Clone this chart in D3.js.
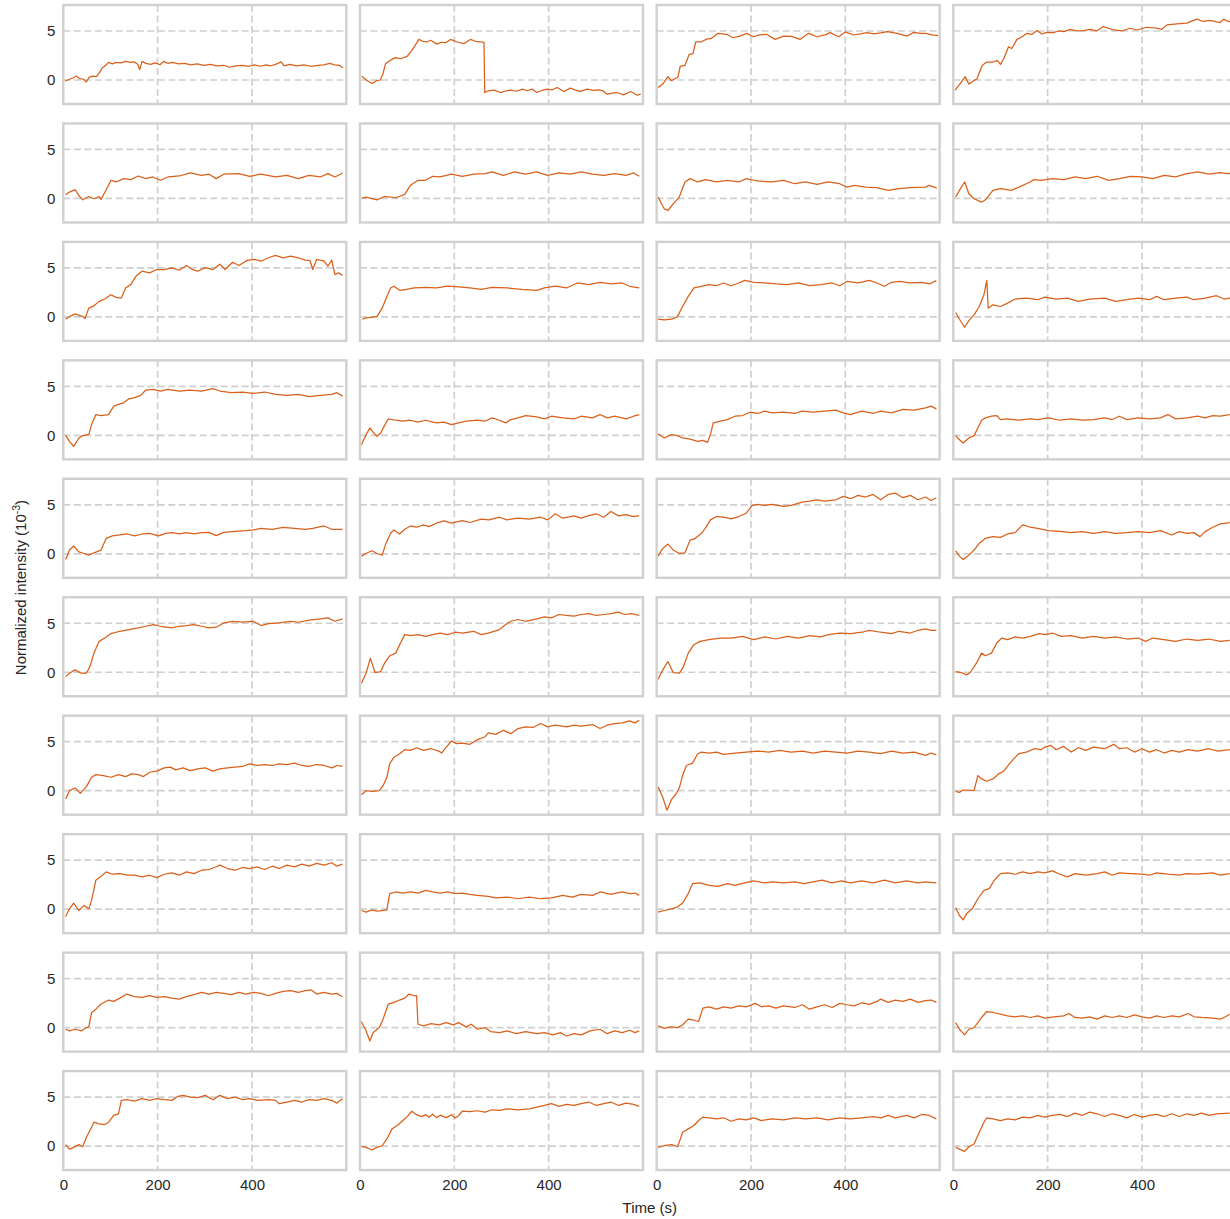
<!DOCTYPE html>
<html>
<head>
<meta charset="utf-8">
<script src="https://cdn.jsdelivr.net/npm/d3@7"></script>
<style>
  body { margin: 0; background: #fff; }
  text { font-family: "Liberation Sans", Arial, Helvetica, sans-serif; fill: #262626; }
</style>
</head>
<body>
<svg id="fig" width="1230" height="1219"></svg>
<script>
// Normalized intensity traces (units of 1e-3) as [time (s), value] pairs, one per cell.
// Row 1
const c11 = [[4,-0.1],[12,0.05],[20,0.2],[28,0.4],[34,0.15],[42,0.1],[49,-0.2],[55,0.3],[63,0.4],[70,0.35],[76,0.7],[82,1.2],[90,1.5],[96,1.8],[104,1.65],[112,1.8],[122,1.75],[132,1.9],[142,1.8],[150,1.85],[158,1.6],[162,1.05],[167,1.9],[175,1.7],[185,1.6],[195,1.75],[205,1.55],[213,1.9],[222,1.7],[232,1.8],[245,1.65],[258,1.7],[270,1.55],[284,1.65],[298,1.5],[312,1.6],[325,1.45],[340,1.5],[352,1.3],[365,1.45],[380,1.5],[393,1.4],[405,1.55],[418,1.4],[430,1.55],[440,1.45],[450,1.6],[462,1.85],[468,1.45],[480,1.6],[495,1.45],[510,1.55],[525,1.4],[540,1.5],[552,1.55],[565,1.7],[575,1.55],[585,1.5],[593,1.25]];
const c12 = [[4,0.38],[12,0.05],[20,-0.2],[26,-0.35],[34,-0.1],[43,0],[48,0.5],[54,1.65],[64,2.0],[75,2.28],[86,2.17],[100,2.41],[110,3.03],[118,3.6],[125,4.14],[133,3.95],[142,3.9],[150,4.05],[163,3.66],[172,3.85],[182,3.8],[192,4.14],[205,3.9],[220,3.7],[234,4.14],[245,3.95],[255,3.9],[263,3.83],[264.5,-1.28],[272,-1.1],[284,-1.04],[298,-1.28],[310,-1.1],[319,-1.04],[332,-1.15],[344,-0.93],[355,-1.1],[365,-0.93],[375,-1.28],[386,-1.05],[397,-0.93],[408,-1.0],[418,-0.76],[432,-1.17],[446,-0.83],[456,-1.0],[467,-1.17],[482,-0.93],[495,-1.05],[506,-1.0],[515,-1.1],[524,-1.45],[535,-1.35],[545,-1.28],[559,-1.52],[574,-1.17],[588,-1.55],[595,-1.45]];
const c13 = [[3,-0.76],[13,-0.42],[24,0.34],[31,-0.07],[38,0.1],[45,0.28],[50,1.38],[60,1.48],[69,2.62],[77,2.69],[83,3.9],[95,3.9],[106,4.17],[116,4.24],[130,4.76],[148,4.66],[162,4.31],[176,4.48],[191,4.76],[205,4.41],[218,4.6],[233,4.66],[251,4.14],[269,4.48],[286,4.45],[304,4.14],[322,4.76],[340,4.41],[357,4.6],[368,4.83],[386,4.41],[400,4.9],[418,4.59],[432,4.7],[446,4.83],[460,4.7],[475,4.8],[489,4.93],[510,4.76],[531,4.48],[545,4.86],[560,4.75],[570,4.76],[584,4.6],[597,4.52]];
const c14 = [[4,-1.04],[15,-0.35],[25,0.34],[33,-0.42],[43,-0.07],[50,0.1],[61,1.48],[71,1.83],[85,1.83],[93,2.0],[100,1.59],[107,2.17],[117,3.38],[124,3.21],[135,4.14],[146,4.41],[156,4.76],[167,4.66],[177,5.04],[188,4.69],[198,4.86],[212,4.83],[223,5.0],[235,4.93],[248,5.17],[262,5.0],[276,5.03],[290,5.17],[304,5.0],[318,5.45],[340,5.1],[357,5.0],[375,5.28],[389,5.1],[410,5.38],[431,5.28],[442,5.17],[453,5.62],[474,5.72],[495,5.8],[516,6.21],[530,5.97],[544,6.07],[566,5.86],[573,6.21],[583,5.97],[595,6.0]];
// Row 2
const c21 = [[5,0.38],[13,0.65],[25,0.9],[33,0.3],[41,-0.14],[54,0.2],[65,-0.03],[76,0.2],[80,-0.1],[91,0.89],[101,1.85],[112,1.68],[128,2.02],[143,1.92],[159,2.29],[175,2.02],[190,2.19],[206,1.85],[222,2.19],[246,2.29],[269,2.6],[293,2.36],[309,2.47],[324,2.02],[340,2.47],[372,2.53],[395,2.26],[419,2.47],[450,2.19],[474,2.36],[498,2.02],[521,2.36],[545,2.19],[561,2.53],[576,2.19],[592,2.6]];
const c22 = [[5,0.03],[13,0.14],[36,-0.14],[52,0.2],[76,0.07],[95,0.41],[107,1.34],[123,1.85],[139,1.85],[154,2.26],[170,2.19],[194,2.47],[217,2.26],[241,2.47],[265,2.53],[280,2.7],[304,2.36],[328,2.7],[351,2.47],[375,2.7],[398,2.36],[422,2.6],[446,2.47],[469,2.7],[493,2.47],[517,2.36],[540,2.53],[564,2.36],[580,2.6],[592,2.26]];
const c23 = [[3,0.14],[16,-1.06],[24,-1.23],[35,-0.55],[48,0.14],[60,1.68],[71,2.02],[87,1.68],[103,1.92],[127,1.68],[150,1.85],[174,1.68],[190,2.02],[213,1.78],[245,1.68],[269,1.85],[293,1.5],[316,1.68],[340,1.44],[364,1.68],[388,1.5],[404,1.16],[419,1.34],[443,1.16],[467,1.1],[491,0.82],[514,1.0],[538,1.1],[570,1.16],[578,1.34],[594,1.06]];
const c24 = [[5,0.14],[13,0.82],[24,1.68],[33,0.48],[44,-0.03],[60,-0.38],[68,-0.14],[84,0.82],[100,0.99],[123,0.82],[139,1.16],[163,1.68],[171,1.92],[186,1.85],[210,2.02],[234,1.92],[258,2.19],[281,2.02],[305,2.26],[329,1.85],[352,2.02],[376,2.26],[400,2.19],[423,2.02],[447,2.36],[471,2.19],[495,2.53],[518,2.7],[542,2.47],[566,2.64],[581,2.53],[595,2.6]];
// Row 3
const c31 = [[5,-0.24],[13,0.03],[25,0.31],[41,0.03],[46,-0.17],[54,0.89],[65,1.13],[76,1.58],[88,1.82],[101,2.26],[112,1.99],[123,1.92],[132,2.95],[143,3.29],[154,4.14],[167,4.66],[183,4.49],[198,4.83],[214,4.83],[230,5.0],[246,4.76],[261,5.24],[274,4.83],[285,4.66],[301,5.03],[317,4.83],[332,5.38],[343,4.83],[359,5.58],[372,5.24],[391,5.79],[406,5.86],[419,5.68],[435,6.03],[450,6.27],[466,6.03],[482,6.2],[498,6.03],[513,5.79],[523,5.75],[529,4.83],[537,5.86],[553,5.68],[561,5.17],[569,5.79],[576,4.32],[584,4.49],[592,4.21]];
const c32 = [[5,-0.24],[13,-0.1],[36,0.03],[47,0.89],[57,2.09],[65,2.95],[72,3.13],[84,2.71],[99,2.81],[115,2.95],[139,3.0],[162,2.95],[186,3.13],[209,3.05],[233,2.95],[257,2.81],[280,3.0],[312,2.95],[343,2.81],[375,2.71],[391,2.95],[414,3.13],[438,2.95],[461,3.46],[485,3.29],[509,3.53],[532,3.36],[556,3.46],[572,3.12],[592,2.95]];
const c33 = [[3,-0.24],[16,-0.31],[32,-0.24],[44,0.03],[55,1.06],[67,2.09],[79,2.95],[95,3.12],[111,3.29],[127,3.18],[142,3.46],[158,3.18],[174,3.46],[187,3.73],[206,3.53],[229,3.46],[253,3.36],[277,3.29],[301,3.46],[324,3.18],[348,3.29],[372,3.46],[388,3.18],[404,3.63],[427,3.46],[451,3.73],[467,3.46],[483,3.12],[498,3.53],[514,3.63],[538,3.46],[562,3.53],[578,3.36],[593,3.7]];
const c34 = [[5,0.45],[13,-0.24],[24,-1.06],[33,-0.38],[44,0.2],[55,1.06],[65,2.26],[71,3.73],[74,0.89],[84,1.23],[100,1.06],[115,1.4],[131,1.82],[155,1.92],[179,1.75],[194,2.02],[218,1.82],[242,1.92],[265,1.58],[289,1.82],[321,1.92],[344,1.58],[368,1.75],[392,1.92],[416,1.75],[431,2.09],[447,1.75],[471,1.92],[495,2.02],[510,1.75],[534,1.92],[558,2.16],[574,1.82],[586,1.92],[595,1.9]];
// Row 4
const c41 = [[5,0],[13,-0.62],[22,-1.13],[33,-0.27],[41,-0.03],[54,0.07],[60,1.1],[69,2.12],[80,2.02],[96,2.12],[107,2.98],[117,3.15],[128,3.32],[139,3.73],[151,3.84],[164,4.08],[175,4.62],[191,4.69],[206,4.52],[222,4.69],[246,4.52],[269,4.62],[293,4.52],[317,4.76],[332,4.52],[356,4.35],[380,4.42],[403,4.28],[427,4.42],[450,4.18],[474,4.08],[498,4.18],[521,3.94],[545,4.08],[569,4.18],[580,4.35],[592,4.0]];
const c42 = [[3,-0.96],[13,0.07],[21,0.75],[28,0.31],[36,-0.1],[44,0.24],[52,0.99],[60,1.68],[76,1.54],[91,1.44],[107,1.54],[123,1.34],[139,1.54],[162,1.27],[178,1.34],[194,1.1],[209,1.27],[225,1.44],[249,1.54],[265,1.44],[280,1.78],[296,1.54],[309,1.27],[320,1.61],[335,1.78],[351,2.02],[375,1.88],[391,1.68],[406,1.95],[430,1.78],[454,1.68],[469,1.95],[493,1.78],[509,2.12],[524,1.78],[540,1.95],[564,1.68],[580,1.95],[592,2.12]];
const c43 = [[3,0.17],[16,-0.27],[32,0.07],[44,-0.03],[55,-0.27],[71,-0.38],[87,-0.62],[98,-0.51],[108,-0.72],[114,0.07],[120,1.27],[135,1.44],[150,1.61],[166,1.95],[182,2.02],[198,2.36],[214,2.23],[229,2.47],[245,2.29],[269,2.36],[293,2.23],[308,2.47],[332,2.36],[356,2.47],[380,2.57],[396,2.29],[411,2.12],[435,2.47],[459,2.23],[475,2.47],[498,2.29],[522,2.64],[546,2.57],[570,2.81],[582,2.98],[593,2.7]];
const c44 = [[5,-0.03],[13,-0.45],[21,-0.79],[33,-0.27],[44,-0.03],[52,0.75],[60,1.54],[68,1.78],[81,1.95],[92,2.02],[100,1.61],[115,1.68],[139,1.54],[163,1.68],[179,1.61],[202,1.78],[226,1.54],[250,1.68],[273,1.54],[297,1.61],[321,1.78],[337,1.61],[352,1.95],[368,1.61],[392,1.78],[416,1.68],[439,1.78],[455,2.12],[471,1.68],[495,1.78],[518,1.95],[534,1.78],[550,2.02],[566,1.95],[586,2.12]];
// Row 5
const c51 = [[5,-0.58],[13,0.38],[22,0.79],[33,0.2],[44,0.03],[54,-0.14],[65,0.1],[80,0.38],[91,1.58],[104,1.82],[120,1.92],[135,2.02],[151,1.82],[167,2.02],[183,2.09],[202,1.82],[217,2.09],[230,2.16],[246,2.02],[261,2.16],[277,2.02],[293,2.16],[309,2.19],[324,1.85],[340,2.19],[364,2.29],[387,2.36],[403,2.43],[419,2.6],[443,2.5],[466,2.7],[490,2.6],[513,2.5],[529,2.6],[553,2.84],[569,2.5],[592,2.5]];
const c52 = [[3,-0.24],[13,0.03],[25,0.31],[36,0.03],[47,-0.14],[55,1.06],[65,2.09],[72,2.43],[84,2.02],[95,2.5],[107,2.84],[120,2.71],[135,2.95],[146,2.77],[162,3.12],[178,3.36],[194,3.12],[217,3.39],[233,3.19],[257,3.53],[273,3.46],[296,3.73],[312,3.46],[335,3.63],[359,3.53],[383,3.73],[398,3.46],[414,4.08],[430,3.63],[454,3.87],[469,3.63],[485,3.9],[501,4.08],[517,3.73],[532,4.32],[548,3.87],[564,4.0],[580,3.8],[592,3.9]];
const c53 = [[3,-0.24],[13,0.55],[24,0.99],[35,0.38],[48,0.03],[60,0.1],[71,1.4],[82,1.58],[95,2.09],[103,2.6],[114,3.46],[127,3.8],[142,3.73],[158,3.56],[174,3.8],[190,4.14],[203,4.93],[214,5.03],[229,4.93],[245,5.03],[269,4.83],[285,4.93],[309,5.27],[324,5.37],[340,5.51],[356,5.37],[380,5.51],[396,5.86],[411,5.62],[427,5.96],[443,5.79],[459,6.06],[475,5.51],[491,6.06],[506,6.2],[522,5.72],[538,5.96],[554,5.51],[570,5.79],[582,5.44],[593,5.72]];
const c54 = [[5,0.31],[13,-0.24],[21,-0.58],[33,-0.14],[44,0.38],[55,1.06],[68,1.58],[84,1.75],[100,1.68],[115,2.02],[131,2.16],[147,2.95],[163,2.71],[179,2.6],[202,2.36],[226,2.29],[250,2.16],[273,2.26],[297,2.09],[321,2.26],[344,2.09],[368,2.16],[392,2.26],[416,2.16],[439,2.36],[463,1.92],[479,2.26],[495,2.09],[510,2.16],[523,1.75],[534,2.26],[550,2.71],[566,3.05],[586,3.18]];
// Row 6
const c61 = [[5,-0.45],[13,-0.1],[25,0.24],[38,-0.1],[49,-0.1],[57,0.65],[65,1.95],[76,3.15],[88,3.49],[101,3.94],[120,4.18],[139,4.35],[159,4.52],[175,4.69],[191,4.86],[206,4.69],[230,4.52],[246,4.69],[261,4.76],[277,4.86],[293,4.69],[309,4.52],[324,4.59],[340,5.03],[359,5.2],[380,5.1],[403,5.2],[419,4.76],[435,4.96],[458,5.03],[482,5.2],[498,5.1],[521,5.31],[545,5.45],[561,5.55],[576,5.2],[592,5.45]];
const c62 = [[3,-1.13],[13,-0.1],[22,1.44],[32,-0.03],[44,0.07],[52,0.92],[63,1.68],[76,1.95],[84,2.81],[95,3.84],[107,3.73],[123,3.84],[139,3.66],[154,3.84],[170,4.0],[186,3.84],[202,4.08],[217,4.0],[241,4.18],[257,3.84],[272,4.0],[296,4.35],[309,4.86],[320,5.2],[335,5.38],[351,5.2],[375,5.45],[391,5.65],[406,5.55],[422,5.89],[438,5.79],[454,5.72],[469,5.89],[485,5.99],[501,5.79],[517,5.89],[532,5.99],[548,6.13],[561,5.89],[576,5.99],[592,5.79]];
const c63 = [[3,-0.72],[13,0.24],[24,1.1],[35,-0.03],[48,-0.1],[57,0.58],[67,1.95],[79,2.81],[92,3.15],[111,3.32],[135,3.49],[158,3.49],[182,3.66],[206,3.32],[229,3.6],[253,3.39],[277,3.66],[301,3.49],[324,3.73],[348,3.6],[364,3.84],[388,4.0],[411,3.94],[435,4.08],[451,4.28],[475,4.08],[498,3.94],[514,4.18],[538,4.0],[554,4.28],[570,4.42],[582,4.28],[593,4.28]];
const c64 = [[5,0.07],[17,-0.03],[28,-0.27],[36,-0.03],[49,0.92],[60,1.95],[68,1.68],[81,1.95],[92,2.98],[103,3.49],[115,3.32],[131,3.6],[147,3.49],[163,3.66],[182,3.94],[194,3.84],[210,4.0],[229,3.66],[250,3.73],[273,3.49],[297,3.66],[321,3.49],[344,3.6],[368,3.39],[392,3.49],[408,3.15],[423,3.49],[447,3.32],[471,3.15],[495,3.39],[518,3.25],[542,3.39],[566,3.15],[586,3.25]];
// Row 7
const c71 = [[5,-0.86],[13,0],[25,0.27],[36,-0.27],[49,0.41],[60,1.37],[69,1.64],[85,1.54],[101,1.37],[117,1.64],[132,1.44],[145,1.71],[159,1.64],[170,1.44],[183,1.88],[198,1.99],[214,2.33],[227,2.4],[238,2.12],[254,2.33],[269,2.05],[285,2.22],[301,2.33],[317,1.99],[332,2.22],[348,2.33],[364,2.4],[380,2.47],[395,2.74],[411,2.57],[427,2.67],[443,2.57],[458,2.74],[474,2.67],[490,2.81],[506,2.57],[521,2.47],[537,2.67],[553,2.57],[569,2.33],[580,2.57],[592,2.47]];
const c72 = [[3,-0.41],[13,0],[25,-0.07],[41,0],[49,0.51],[57,1.37],[63,2.74],[72,3.42],[84,3.77],[95,4.18],[107,4.11],[120,4.38],[135,4.11],[151,4.28],[167,4.04],[173,3.84],[183,4.45],[194,5.07],[205,4.8],[217,4.86],[233,4.73],[249,5.21],[265,5.48],[272,5.89],[288,5.75],[304,6.16],[320,5.82],[335,6.34],[351,6.51],[367,6.45],[383,6.85],[398,6.51],[414,6.68],[438,6.51],[454,6.68],[469,6.58],[493,6.75],[509,6.34],[524,6.68],[540,6.85],[556,6.92],[572,7.12],[583,6.92],[592,7.19]];
const c73 = [[3,0.41],[13,-0.68],[22,-1.99],[32,-0.86],[41,-0.34],[48,0.27],[55,1.54],[63,2.57],[76,2.81],[87,3.77],[95,3.94],[111,3.84],[127,3.94],[142,3.7],[166,3.84],[190,3.94],[214,4.04],[237,3.94],[261,4.11],[285,3.94],[309,4.04],[332,3.84],[356,4.04],[380,3.94],[404,3.84],[427,4.04],[451,3.94],[475,3.77],[498,4.04],[522,3.84],[546,3.94],[570,3.6],[582,3.84],[593,3.66]];
const c74 = [[5,-0.07],[13,-0.17],[21,0.07],[44,0],[52,1.54],[60,1.2],[71,0.96],[84,1.2],[96,1.71],[107,1.99],[119,2.74],[128,3.25],[139,3.77],[155,3.94],[171,4.28],[186,4.18],[194,4.45],[207,4.62],[218,4.18],[234,4.52],[250,3.94],[265,4.38],[281,4.11],[297,4.45],[321,4.28],[340,4.73],[352,4.28],[368,4.38],[384,3.94],[400,4.28],[416,3.94],[431,4.18],[447,3.84],[463,4.11],[479,3.94],[498,4.18],[518,4.04],[542,4.28],[561,4.04],[586,4.18]];
// Row 8
const c81 = [[5,-0.75],[13,0.03],[22,0.62],[33,-0.14],[44,0.38],[54,0.03],[60,0.89],[69,2.95],[80,3.36],[91,3.8],[104,3.56],[120,3.63],[135,3.46],[151,3.46],[167,3.29],[183,3.46],[198,3.22],[214,3.56],[230,3.7],[246,3.46],[261,3.8],[277,3.63],[293,3.97],[309,4.04],[324,4.32],[332,4.49],[348,4.14],[364,3.97],[380,4.25],[395,4.14],[411,4.32],[427,4.04],[443,4.38],[458,4.14],[474,4.49],[490,4.32],[506,4.59],[521,4.38],[537,4.66],[553,4.49],[569,4.73],[580,4.38],[592,4.59]];
const c82 = [[3,-0.14],[13,-0.31],[25,-0.07],[36,-0.21],[47,-0.14],[57,-0.07],[63,1.58],[76,1.75],[91,1.64],[107,1.75],[123,1.64],[139,1.92],[154,1.75],[170,1.64],[186,1.75],[202,1.58],[217,1.64],[233,1.51],[249,1.4],[272,1.3],[288,1.16],[312,1.23],[335,1.06],[359,1.23],[383,1.06],[406,1.16],[430,1.4],[450,1.23],[469,1.51],[493,1.4],[509,1.75],[532,1.51],[556,1.75],[572,1.58],[583,1.64],[592,1.4]];
const c83 = [[3,-0.31],[16,-0.14],[32,0.03],[44,0.21],[55,0.62],[67,1.58],[76,2.6],[92,2.67],[111,2.43],[130,2.33],[150,2.6],[166,2.43],[187,2.67],[206,2.88],[229,2.67],[245,2.77],[269,2.67],[293,2.77],[313,2.6],[332,2.77],[351,2.95],[372,2.67],[392,2.88],[411,2.67],[435,2.88],[459,2.67],[483,2.95],[506,2.67],[530,2.88],[554,2.67],[570,2.77],[593,2.67]];
const c84 = [[5,0.14],[13,-0.65],[21,-1.1],[28,-0.48],[40,0.03],[52,1.06],[65,1.92],[76,2.09],[87,2.95],[100,3.63],[115,3.7],[131,3.56],[147,3.8],[163,3.63],[179,3.8],[194,3.7],[210,3.9],[226,3.56],[242,3.29],[258,3.63],[281,3.46],[305,3.63],[321,3.8],[337,3.46],[352,3.7],[376,3.63],[400,3.56],[416,3.46],[431,3.7],[455,3.56],[479,3.46],[495,3.63],[518,3.56],[550,3.7],[566,3.46],[586,3.63]];
// Row 9
const c91 = [[5,-0.17],[13,-0.34],[25,-0.17],[38,-0.34],[49,0],[54,0.07],[60,1.54],[69,1.88],[80,2.4],[96,2.81],[107,2.67],[120,3.01],[135,3.42],[151,3.15],[167,3.08],[183,3.25],[198,3.08],[214,3.15],[230,3.01],[246,2.91],[261,3.15],[277,3.36],[293,3.6],[309,3.42],[324,3.6],[340,3.49],[356,3.36],[372,3.6],[387,3.42],[403,3.6],[419,3.49],[435,3.25],[450,3.49],[466,3.7],[482,3.77],[498,3.6],[513,3.77],[526,3.84],[537,3.42],[553,3.6],[569,3.42],[580,3.49],[592,3.15]];
const c92 = [[3,0.62],[13,-0.34],[21,-1.37],[28,-0.51],[41,0],[49,0.86],[60,2.4],[72,2.57],[84,2.81],[95,3.01],[104,3.42],[115,3.25],[120,3.25],[123,0.34],[135,0.17],[151,0.41],[167,0.27],[183,0.51],[198,0.27],[209,0.51],[225,0.07],[236,0.34],[249,-0.17],[265,0],[277,-0.41],[296,-0.51],[312,-0.34],[331,-0.62],[351,-0.41],[375,-0.62],[391,-0.51],[409,-0.75],[425,-0.51],[438,-0.86],[454,-0.62],[469,-0.75],[488,-0.34],[509,-0.17],[524,-0.62],[540,-0.34],[556,-0.51],[572,-0.27],[583,-0.51],[592,-0.34]];
const c93 = [[3,0.17],[16,-0.07],[29,0.07],[44,0],[55,0.27],[67,0.86],[79,0.75],[89,0.62],[98,1.99],[111,2.12],[127,1.88],[142,2.12],[158,1.99],[174,2.22],[190,2.12],[209,2.47],[222,2.12],[237,2.22],[253,1.99],[269,2.22],[293,2.05],[309,2.33],[324,1.88],[340,2.12],[356,2.33],[372,2.05],[388,2.47],[404,2.33],[419,2.22],[435,2.53],[451,2.36],[467,2.67],[475,2.91],[491,2.57],[506,2.81],[522,2.67],[538,2.91],[554,2.57],[570,2.74],[582,2.81],[593,2.57]];
const c94 = [[5,0.51],[13,-0.17],[24,-0.75],[33,-0.17],[44,0],[52,0.51],[60,1.03],[71,1.64],[84,1.54],[100,1.37],[115,1.2],[131,1.1],[147,1.2],[163,1.03],[179,1.2],[194,0.96],[213,1.1],[234,1.2],[245,1.44],[258,1.03],[273,0.96],[289,1.1],[305,0.86],[321,1.2],[337,1.03],[352,1.2],[368,1.03],[384,1.3],[400,1.1],[416,0.96],[431,1.2],[447,1.03],[463,1.2],[479,1.1],[498,1.44],[510,1.1],[526,1.03],[550,0.96],[566,0.86],[577,1.1],[586,1.37]];
// Row 10
const c101 = [[5,0.14],[13,-0.31],[22,-0.14],[33,0.14],[41,-0.07],[49,0.89],[57,1.64],[65,2.43],[76,2.26],[88,2.19],[96,2.43],[107,3.12],[117,3.29],[123,4.66],[135,4.73],[151,4.59],[167,4.83],[183,4.66],[198,4.83],[214,4.73],[230,4.66],[243,5.07],[254,5.17],[269,5.0],[285,4.93],[301,5.17],[317,4.73],[332,5.17],[348,4.83],[364,5.0],[380,4.73],[395,4.83],[411,4.66],[435,4.73],[450,4.66],[458,4.32],[474,4.49],[490,4.66],[506,4.49],[521,4.73],[537,4.66],[553,4.83],[569,4.66],[580,4.38],[592,4.83]];
const c102 = [[3,-0.07],[13,-0.14],[25,-0.41],[36,-0.14],[47,0.03],[57,0.72],[68,1.75],[79,2.09],[91,2.6],[99,2.95],[110,3.55],[120,3.2],[131,3.0],[139,3.2],[147,2.95],[154,3.25],[162,2.9],[170,3.15],[183,2.9],[194,3.2],[202,2.85],[209,3.1],[217,3.55],[233,3.5],[249,3.6],[265,3.46],[280,3.7],[296,3.63],[312,3.8],[335,3.7],[359,3.8],[375,3.97],[391,4.14],[406,4.32],[422,4.04],[438,4.25],[454,4.14],[469,4.32],[485,4.49],[501,4.14],[517,4.32],[532,4.49],[548,4.14],[564,4.38],[580,4.25],[592,4.04]];
const c103 = [[3,-0.14],[16,0.03],[32,0.14],[44,-0.07],[48,0.38],[55,1.4],[67,1.75],[79,2.09],[89,2.6],[98,2.95],[111,2.88],[127,2.77],[142,2.88],[158,2.53],[174,2.77],[190,2.67],[206,2.88],[222,2.6],[245,2.77],[269,2.67],[293,2.88],[316,2.77],[340,2.88],[364,2.67],[388,2.88],[411,2.77],[435,2.88],[459,3.01],[475,2.88],[491,3.12],[506,2.88],[530,3.12],[546,2.88],[562,3.22],[578,3.12],[593,2.77]];
const c104 = [[5,-0.14],[13,-0.31],[24,-0.55],[33,-0.07],[44,0.21],[55,1.4],[65,2.43],[71,2.88],[84,2.77],[100,2.6],[115,2.77],[131,2.67],[147,2.95],[163,2.88],[179,3.12],[194,2.95],[210,3.12],[226,3.22],[242,3.01],[258,3.36],[273,3.12],[289,3.46],[305,3.29],[321,3.01],[337,3.29],[352,3.12],[368,2.88],[384,3.22],[400,2.95],[416,3.12],[431,3.22],[447,3.01],[463,3.29],[479,3.01],[495,3.29],[510,3.12],[526,3.36],[542,3.12],[558,3.29],[586,3.36]];

const cellRows = [
  [c11, c12, c13, c14],
  [c21, c22, c23, c24],
  [c31, c32, c33, c34],
  [c41, c42, c43, c44],
  [c51, c52, c53, c54],
  [c61, c62, c63, c64],
  [c71, c72, c73, c74],
  [c81, c82, c83, c84],
  [c91, c92, c93, c94],
  [c101, c102, c103, c104]
];

const xTicks = [0, 200, 400];
const yTicks = [0, 5];
const xDomain = [0, 600];
const yDomain = [-2.45, 7.65];
const xTitle = "Time (s)";

// Figure geometry
const panelW = 283, panelH = 99;
const left0 = 63.3, top0 = 5;
const colStep = 296.67, rowStep = 118.45;
const fontSize = 15;
const lineColor = "#D9601A";
const gridColor = "#cfcfcf";
const frameColor = "#d0d0d0";

const svg = d3.select("#fig");
const nRows = cellRows.length;

cellRows.forEach((row, r) => {
  row.forEach((series, c) => {
    const px = left0 + c * colStep;
    const py = top0 + r * rowStep;
    const x = d3.scaleLinear().domain(xDomain).range([px, px + panelW]);
    const y = d3.scaleLinear().domain(yDomain).range([py + panelH, py]);
    const g = svg.append("g").attr("class", "cell");

    // dashed grid
    g.selectAll("line.vgrid").data(xTicks.filter(t => t > xDomain[0])).join("line")
      .attr("class", "vgrid")
      .attr("x1", d => x(d)).attr("x2", d => x(d))
      .attr("y1", py).attr("y2", py + panelH)
      .attr("stroke", gridColor).attr("stroke-width", 1.7)
      .attr("stroke-dasharray", "7,3.5");
    g.selectAll("line.hgrid").data(yTicks).join("line")
      .attr("class", "hgrid")
      .attr("x1", px).attr("x2", px + panelW)
      .attr("y1", d => y(d)).attr("y2", d => y(d))
      .attr("stroke", gridColor).attr("stroke-width", 1.7)
      .attr("stroke-dasharray", "7,3.5");

    // trace
    const line = d3.line().x(d => x(d[0])).y(d => y(d[1]));
    g.append("path").datum(series)
      .attr("d", line)
      .attr("fill", "none")
      .attr("stroke", lineColor)
      .attr("stroke-width", 1.25)
      .attr("stroke-linejoin", "round");

    // frame
    g.append("rect")
      .attr("x", px).attr("y", py)
      .attr("width", panelW).attr("height", panelH)
      .attr("fill", "none")
      .attr("stroke", frameColor).attr("stroke-width", 2.4);

    if (c === 0) {
      const ay = g.append("g").attr("transform", `translate(${px},0)`)
        .call(d3.axisLeft(y).tickValues(yTicks).tickSize(0).tickPadding(8).tickFormat(d3.format("d")));
      ay.select(".domain").remove();
      ay.selectAll("text").attr("font-size", fontSize).attr("font-family", null);
    }
    if (r === nRows - 1) {
      const ax = g.append("g").attr("transform", `translate(0,${py + panelH})`)
        .call(d3.axisBottom(x).tickValues(xTicks).tickSize(0).tickPadding(9).tickFormat(d3.format("d")));
      ax.select(".domain").remove();
      ax.selectAll("text").attr("font-size", fontSize).attr("font-family", null);
    }
  });
});

// axis titles
const midX = left0 + (3 * colStep + panelW) / 2;
const midY = top0 + ((nRows - 1) * rowStep + panelH) / 2;
svg.append("text")
  .attr("x", midX).attr("y", 1213)
  .attr("text-anchor", "middle")
  .attr("font-size", fontSize)
  .text(xTitle);

const yTitle = svg.append("text")
  .attr("transform", `translate(25.5,${midY}) rotate(-90)`)
  .attr("text-anchor", "middle")
  .attr("font-size", fontSize);
yTitle.append("tspan").text("Normalized intensity (10");
yTitle.append("tspan").attr("dy", -6).attr("font-size", 10.5).text("-3");
yTitle.append("tspan").attr("dy", 6).text(")");
</script>
</body>
</html>
